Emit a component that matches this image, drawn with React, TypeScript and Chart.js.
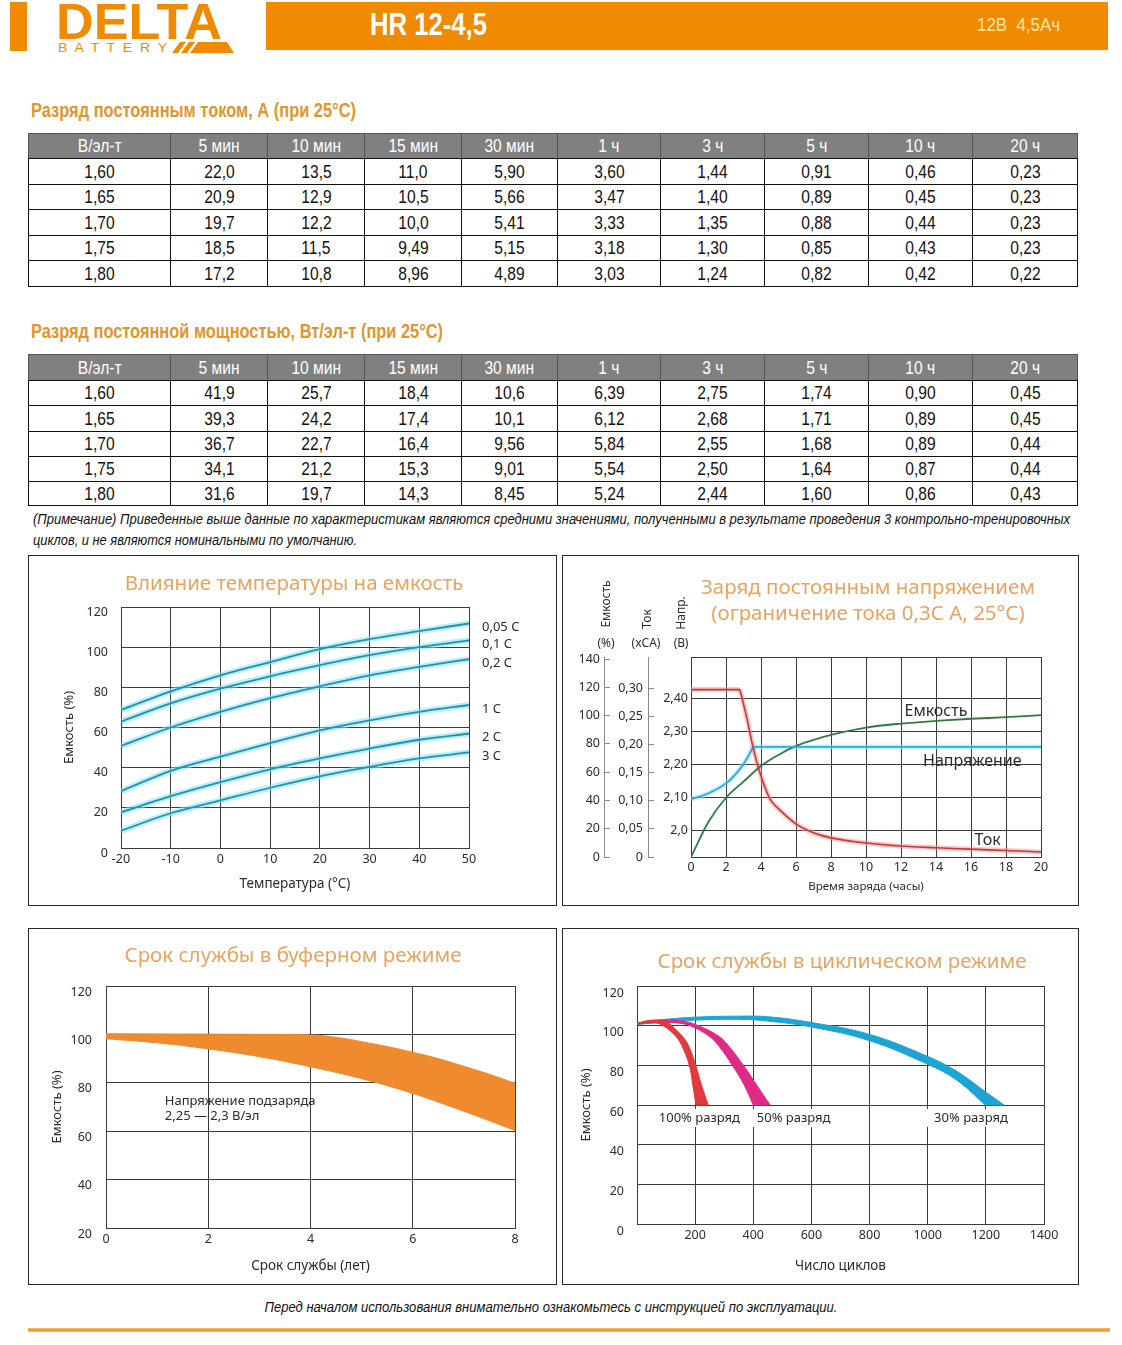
import React, { useEffect, useRef } from 'react';
import { Chart, registerables } from 'chart.js';

Chart.register(...registerables);

const NARROW = '"Liberation Sans Narrow", "Arial Narrow", "Liberation Sans", Arial, sans-serif';
const CF = '"Noto Sans", "Open Sans", sans-serif';
const BRAND = '#F08A00';
const HEAD_COLOR = '#E0952E';
const TITLE_COLOR = '#E9A35E';
const INK = '#2b2b2b';
const GRID = '#3c3c3c';
const NARROW_SCALE = 0.82;

// ===== Tables =====
const tableHeaders = ['В/эл-т', '5 мин', '10 мин', '15 мин', '30 мин', '1 ч', '3 ч', '5 ч', '10 ч', '20 ч'];
const endVoltages = ['1,60', '1,65', '1,70', '1,75', '1,80'];
const currentRows = [
  ['22,0', '13,5', '11,0', '5,90', '3,60', '1,44', '0,91', '0,46', '0,23'],
  ['20,9', '12,9', '10,5', '5,66', '3,47', '1,40', '0,89', '0,45', '0,23'],
  ['19,7', '12,2', '10,0', '5,41', '3,33', '1,35', '0,88', '0,44', '0,23'],
  ['18,5', '11,5', '9,49', '5,15', '3,18', '1,30', '0,85', '0,43', '0,23'],
  ['17,2', '10,8', '8,96', '4,89', '3,03', '1,24', '0,82', '0,42', '0,22'],
];
const powerRows = [
  ['41,9', '25,7', '18,4', '10,6', '6,39', '2,75', '1,74', '0,90', '0,45'],
  ['39,3', '24,2', '17,4', '10,1', '6,12', '2,68', '1,71', '0,89', '0,45'],
  ['36,7', '22,7', '16,4', '9,56', '5,84', '2,55', '1,68', '0,89', '0,44'],
  ['34,1', '21,2', '15,3', '9,01', '5,54', '2,50', '1,64', '0,87', '0,44'],
  ['31,6', '19,7', '14,3', '8,45', '5,24', '2,44', '1,60', '0,86', '0,43'],
];

// ===== Chart 1: temperature vs capacity =====
const tempC = [-20, -10, 0, 10, 20, 30, 40, 50];
const cap005C = [68.7, 78, 86, 92.6, 99, 104, 108, 111.8];
const cap01C = [63, 72, 79.3, 85.5, 91, 96, 100, 103.4];
const cap02C = [50.8, 60, 67.8, 74.6, 80.5, 86, 90.2, 94];
const cap1C = [28.3, 38.4, 45.5, 52.2, 58.6, 63.6, 67.8, 71.2];
const cap2C = [17.8, 25.8, 32.8, 39.2, 44.6, 49.5, 53.9, 56.9];
const cap3C = [8.6, 17.3, 23.7, 30, 35.7, 40.4, 44.6, 47.6];
const tempRates = ['0,05 C', '0,1 C', '0,2 C', '1 C', '2 C', '3 C'];
const tempSeries = [cap005C, cap01C, cap02C, cap1C, cap2C, cap3C];
const tempYTicks = [0, 20, 40, 60, 80, 100, 120];

// ===== Chart 2: constant-voltage charge =====
const chargeXTicks = [0, 2, 4, 6, 8, 10, 12, 14, 16, 18, 20];
const curLimitHours = [0, 2.8];
const curLimit = [0.298, 0.298];
const curDecayHours = [2.8, 3.2, 3.55, 3.9, 4.5, 5, 6, 7, 8, 10, 12, 14, 16, 18, 20];
const curDecay = [0.298, 0.246, 0.195, 0.154, 0.104, 0.086, 0.059, 0.043, 0.034, 0.025, 0.0195, 0.0165, 0.014, 0.0115, 0.009];
const voltRiseHours = [0, 1, 2, 2.5, 3, 3.3, 3.55];
const voltRise = [2.095, 2.113, 2.143, 2.168, 2.201, 2.228, 2.253];
const voltHoldHours = [3.55, 20];
const voltHold = [2.253, 2.253];
const capChargeHours = [0, 1, 2, 3, 4, 5, 6, 7, 8, 10, 12, 14, 16, 18, 20];
const capCharge = [0, 24.9, 41.9, 53.3, 64.4, 72.2, 78.6, 82.8, 86.4, 91.6, 94.4, 96.3, 97.8, 98.9, 100.4];
const voltTicks = [2.0, 2.1, 2.2, 2.3, 2.4];
const voltTickLabels = ['2,0', '2,10', '2,20', '2,30', '2,40'];
const curTicks = [0, 0.05, 0.1, 0.15, 0.2, 0.25, 0.3];
const curTickLabels = ['0', '0,05', '0,10', '0,15', '0,20', '0,25', '0,30'];
const capTicks = [0, 20, 40, 60, 80, 100, 120, 140];
const VOLT_MIN = 1.9205;
const VOLT_MAX = 2.5248;
const CAP_MAX = 141.5;
const CUR_MAX = 0.356;

// ===== Chart 3: float service life =====
const bufferTopYears = [0, 1, 2, 3, 4, 4.5, 5, 5.5, 6, 6.5, 7, 7.5, 8];
const bufferTop = [100.3, 100.2, 100.1, 100, 99.8, 98.8, 97, 95, 92.6, 90, 86.8, 83.5, 79.8];
const bufferBottomYears = [0, 1, 2, 3, 4, 5, 6, 7, 8];
const bufferBottom = [98.2, 96.5, 94, 90.8, 86.6, 81.7, 75.6, 68.2, 60.3];
const bufferXTicks = [0, 2, 4, 6, 8];
const bufferYTicks = [20, 40, 60, 80, 100, 120];

// ===== Chart 4: cyclic service life =====
const red100OuterX = [0, 40, 80, 105, 119, 154, 177, 202, 222, 245];
const red100OuterY = [101.2, 102.6, 102.7, 101.8, 100, 95, 90, 80, 70, 60];
const red100InnerX = [203, 192, 180, 154, 131, 90, 60, 30, 0];
const red100InnerY = [60, 70, 80, 90, 95, 100, 101.6, 101.6, 100.8];
const mag50OuterX = [0, 50, 108, 160, 211, 278, 314, 366, 412, 458];
const mag50OuterY = [101.2, 102.5, 103, 102.3, 100, 95, 90, 80, 70, 60];
const mag50InnerX = [400, 369, 328, 280, 245, 182, 130, 80, 30, 0];
const mag50InnerY = [60, 70, 80, 90, 95, 100, 101.5, 101.6, 101.2, 100.8];
const cyan30OuterX = [0, 100, 200, 349, 450, 600, 800, 1000, 1100, 1200, 1263];
const cyan30OuterY = [101.2, 103.2, 104.3, 104.8, 104.5, 101.6, 95.6, 84.5, 77, 66.5, 60];
const cyan30InnerX = [1198, 1100, 1000, 800, 600, 450, 349, 200, 100, 0];
const cyan30InnerY = [60, 72.5, 80.5, 92.4, 99.3, 102.3, 103.2, 102.8, 101.8, 100.6];
const cycleXTicks = [0, 200, 400, 600, 800, 1000, 1200, 1400];
const cycleXTickLabels = ['', '200', '400', '600', '800', '1000', '1200', '1400'];
const cycleYTicks = [0, 20, 40, 60, 80, 100, 120];
const cycleLabels = ['100% разряд', '50% разряд', '30% разряд'];
const cycleLabelX = [75, 412, 1022];
const cycleLabelY = [53.5, 53.5, 53.5];

// ===== helpers =====
const colX = [28, 170, 267, 364, 461, 557, 660, 764, 868, 972, 1077];

const pts = (xs: number[], ys: number[]) => xs.map((x, i) => ({ x, y: ys[i] }));

// closed polygon from two edges, corners kept sharp by repeating the turning points
const polygon = (ax: number[], ay: number[], bx: number[], by: number[]) => {
  const a = pts(ax, ay);
  const b = pts(bx, by);
  return [...a, a[a.length - 1], b[0], ...b, b[b.length - 1], a[0]];
};

const fixW = (w: number) => (s: any) => { s.width = w; };
const fixH = (h: number) => (s: any) => { s.height = h; };
const setTicks = (vals: number[]) => (s: any) => { s.ticks = vals.map((v) => ({ value: v })); };

const tickFont = { family: CF, size: 12.5 };
const axisTitleFont = { family: CF, size: 13.5 };
const yTitleFont = { family: CF, size: 13 };

let measureCtx: CanvasRenderingContext2D | null = null;
function measure(text: string, font: string) {
  if (!measureCtx) measureCtx = document.createElement('canvas').getContext('2d');
  if (!measureCtx) return 1;
  measureCtx.font = font;
  return measureCtx.measureText(text).width || 1;
}

type TextItem = { text: string; x: number; y: number; yAxis?: string; font: string; color: string; bg?: boolean };

function textPlugin(id: string, items: TextItem[]) {
  return {
    id,
    afterDatasetsDraw(chart: any) {
      const { ctx, scales } = chart;
      ctx.save();
      for (const it of items) {
        const px = scales.x.getPixelForValue(it.x);
        const py = scales[it.yAxis || 'y'].getPixelForValue(it.y);
        ctx.font = it.font;
        ctx.textBaseline = 'middle';
        ctx.textAlign = 'left';
        if (it.bg) {
          const w = ctx.measureText(it.text).width;
          ctx.fillStyle = '#fff';
          ctx.fillRect(px - 8, py - 9, w + 14, 18);
        }
        ctx.fillStyle = it.color;
        ctx.fillText(it.text, px, py);
      }
      ctx.restore();
    },
  };
}

const framePlugin = {
  id: 'frame',
  beforeDatasetsDraw(chart: any) {
    const { ctx, chartArea } = chart;
    ctx.save();
    ctx.strokeStyle = GRID;
    ctx.lineWidth = 1;
    ctx.strokeRect(Math.round(chartArea.left) + 0.5, Math.round(chartArea.top) + 0.5, Math.round(chartArea.right - chartArea.left), Math.round(chartArea.bottom - chartArea.top));
    ctx.restore();
  },
};

const baseOptions = {
  responsive: false,
  animation: false,
  events: [],
  plugins: { legend: { display: false }, tooltip: { enabled: false }, title: { display: false } },
};

// ===== chart builders =====
function buildTempChart() {
  const datasets: any[] = [];
  tempSeries.forEach((vals, i) => {
    const data = pts(tempC, vals);
    datasets.push({ label: tempRates[i], data, borderColor: '#2790A9', borderWidth: 1.8, pointRadius: 0, cubicInterpolationMode: 'monotone', fill: false, order: 0 });
    datasets.push({ label: tempRates[i] + ' halo', data, borderColor: 'rgba(120,226,246,0.55)', borderWidth: 6, pointRadius: 0, cubicInterpolationMode: 'monotone', fill: false, order: 1 });
  });
  const labels = {
    id: 'rateLabels',
    afterDatasetsDraw(chart: any) {
      const { ctx, chartArea, scales } = chart;
      ctx.save();
      ctx.font = `13px ${CF}`;
      ctx.fillStyle = INK;
      ctx.textBaseline = 'middle';
      tempSeries.forEach((vals, i) => {
        ctx.fillText(tempRates[i], chartArea.right + 13, scales.y.getPixelForValue(vals[vals.length - 1]) + 4);
      });
      ctx.restore();
    },
  };
  return {
    type: 'line',
    data: { datasets },
    options: {
      ...baseOptions,
      layout: { padding: { left: 0, right: 87, top: 51, bottom: 0 } },
      scales: {
        x: {
          type: 'linear', min: -20, max: 50,
          afterBuildTicks: setTicks(tempC),
          ticks: { font: tickFont, color: INK, padding: 4, callback: (v: number) => String(v) },
          grid: { color: GRID, drawTicks: false },
          border: { color: GRID },
          title: { display: true, text: 'Температура (°C)', font: axisTitleFont, color: INK, padding: { top: 0, bottom: 13 } },
          afterFit: fixH(57),
        },
        y: {
          type: 'linear', min: 0, max: 120,
          afterBuildTicks: setTicks(tempYTicks),
          ticks: { font: tickFont, color: INK, padding: 13, labelOffset: 5, callback: (v: number) => String(v) },
          grid: { color: GRID, drawTicks: false },
          border: { color: GRID },
          title: { display: true, text: 'Емкость (%)', font: yTitleFont, color: INK, padding: { top: 32, bottom: 0 } },
          afterFit: fixW(92),
        },
      },
    },
    plugins: [labels],
  };
}

function buildChargeChart() {
  const line = { pointRadius: 0, fill: false, cubicInterpolationMode: 'monotone' };
  const datasets: any[] = [
    { ...line, data: pts(curLimitHours, curLimit), yAxisID: 'yCur', borderColor: '#C43A3A', borderWidth: 1.6, order: 0 },
    { ...line, data: pts(curDecayHours, curDecay), yAxisID: 'yCur', borderColor: '#C43A3A', borderWidth: 1.6, order: 0 },
    { ...line, data: pts(curLimitHours, curLimit), yAxisID: 'yCur', borderColor: 'rgba(246,150,150,0.5)', borderWidth: 5, order: 1 },
    { ...line, data: pts(curDecayHours, curDecay), yAxisID: 'yCur', borderColor: 'rgba(246,150,150,0.5)', borderWidth: 5, order: 1 },
    { ...line, data: pts(voltRiseHours, voltRise), yAxisID: 'y', borderColor: '#33A9CF', borderWidth: 1.8, order: 0 },
    { ...line, data: pts(voltHoldHours, voltHold), yAxisID: 'y', borderColor: '#33A9CF', borderWidth: 1.8, order: 0 },
    { ...line, data: pts(voltRiseHours, voltRise), yAxisID: 'y', borderColor: 'rgba(140,222,246,0.5)', borderWidth: 5, order: 1 },
    { ...line, data: pts(voltHoldHours, voltHold), yAxisID: 'y', borderColor: 'rgba(140,222,246,0.5)', borderWidth: 5, order: 1 },
    { ...line, data: pts(capChargeHours, capCharge), yAxisID: 'yCap', borderColor: '#2F7B41', borderWidth: 1.8, order: 0 },
  ];
  const font = `16px ${CF}`;
  const labels = textPlugin('chargeLabels', [
    { text: 'Емкость', x: 12.2, y: 102.9, yAxis: 'yCap', font, color: INK },
    { text: 'Напряжение', x: 13.26, y: 2.208, yAxis: 'y', font, color: INK },
    { text: 'Ток', x: 16.2, y: 0.03, yAxis: 'yCur', font, color: INK },
  ]);
  const sideAxis = (weight: number, width: number, max: number, ticks: number[], lbls: string[], pad: number) => ({
    type: 'linear', position: 'left', weight, min: 0, max,
    afterBuildTicks: setTicks(ticks),
    ticks: { font: tickFont, color: INK, padding: pad + 6, callback: (_v: number, i: number) => lbls[i] },
    grid: { drawOnChartArea: false, drawTicks: true, tickLength: -6, color: '#8a8a8a' },
    border: { display: true, color: '#8a8a8a' },
    afterFit: fixW(width),
  });
  return {
    type: 'line',
    data: { datasets },
    options: {
      ...baseOptions,
      layout: { padding: { left: 0, right: 36, top: 101, bottom: 0 } },
      scales: {
        x: {
          type: 'linear', min: 0, max: 20,
          afterBuildTicks: setTicks(chargeXTicks),
          ticks: { font: tickFont, color: INK, padding: 3, callback: (v: number) => String(v) },
          grid: { color: GRID, drawTicks: false },
          border: { color: GRID },
          title: { display: true, text: 'Время заряда (часы)', font: { family: CF, size: 11.5 }, color: INK, padding: { top: 0, bottom: 10 } },
          afterFit: fixH(47),
        },
        y: {
          type: 'linear', position: 'left', weight: 0, min: VOLT_MIN, max: VOLT_MAX,
          afterBuildTicks: setTicks(voltTicks),
          ticks: { font: tickFont, color: INK, padding: 3, callback: (_v: number, i: number) => voltTickLabels[i] },
          grid: { color: GRID, drawTicks: false },
          border: { display: false },
          afterFit: fixW(43),
        },
        yCur: sideAxis(1, 44, CUR_MAX, curTicks, curTickLabels, 5),
        yCap: sideAxis(2, 41, CAP_MAX, capTicks, capTicks.map(String), 4),
      },
    },
    plugins: [framePlugin, labels],
  };
}

function buildBufferChart() {
  const datasets = [
    {
      data: polygon(bufferTopYears, bufferTop, [...bufferBottomYears].reverse(), [...bufferBottom].reverse()),
      borderColor: '#F08A2E', backgroundColor: '#F08A2E', borderWidth: 1, pointRadius: 0, tension: 0.4, fill: 'shape',
    },
  ];
  const font = `13px ${CF}`;
  const labels = textPlugin('bufferLabels', [
    { text: 'Напряжение подзаряда', x: 1.15, y: 72.5, font, color: INK },
    { text: '2,25 — 2,3 В/эл', x: 1.15, y: 66.3, font, color: INK },
  ]);
  return {
    type: 'line',
    data: { datasets },
    options: {
      ...baseOptions,
      layout: { padding: { left: 0, right: 41, top: 57, bottom: 0 } },
      scales: {
        x: {
          type: 'linear', min: 0, max: 8,
          afterBuildTicks: setTicks(bufferXTicks),
          ticks: { font: tickFont, color: INK, padding: 4, callback: (v: number) => String(v) },
          grid: { color: GRID, drawTicks: false },
          border: { color: GRID },
          title: { display: true, text: 'Срок службы (лет)', font: axisTitleFont, color: INK, padding: { top: 0, bottom: 10 } },
          afterFit: fixH(56),
        },
        y: {
          type: 'linear', min: 20, max: 120,
          afterBuildTicks: setTicks(bufferYTicks),
          ticks: { font: tickFont, color: INK, padding: 14, labelOffset: 6, callback: (v: number) => String(v) },
          grid: { color: GRID, drawTicks: false },
          border: { color: GRID },
          title: { display: true, text: 'Емкость (%)', font: yTitleFont, color: INK, padding: { top: 20, bottom: 0 } },
          afterFit: fixW(77),
        },
      },
    },
    plugins: [labels],
  };
}

function buildCycleChart() {
  const band = (data: any[], color: string) => ({ data, borderColor: color, backgroundColor: color, borderWidth: 1, pointRadius: 0, tension: 0.4, fill: 'shape' });
  const datasets = [
    band(polygon(red100OuterX, red100OuterY, red100InnerX, red100InnerY), '#E2393A'),
    band(polygon(mag50OuterX, mag50OuterY, mag50InnerX, mag50InnerY), '#DE2C86'),
    band(polygon(cyan30OuterX, cyan30OuterY, cyan30InnerX, cyan30InnerY), '#1CA5D2'),
  ];
  const font = `13px ${CF}`;
  const labels = textPlugin('cycleLabels', cycleLabels.map((t, i) => ({ text: t, x: cycleLabelX[i], y: cycleLabelY[i], font, color: INK, bg: true })));
  return {
    type: 'line',
    data: { datasets },
    options: {
      ...baseOptions,
      layout: { padding: { left: 0, right: 33, top: 57, bottom: 0 } },
      scales: {
        x: {
          type: 'linear', min: 0, max: 1400,
          afterBuildTicks: setTicks(cycleXTicks),
          ticks: { font: tickFont, color: INK, padding: 4, callback: (_v: number, i: number) => cycleXTickLabels[i] },
          grid: { color: GRID, drawTicks: false },
          border: { color: GRID },
          title: { display: true, text: 'Число циклов', font: axisTitleFont, color: INK, padding: { top: 0, bottom: 10 } },
          afterFit: fixH(60),
        },
        y: {
          type: 'linear', min: 0, max: 120,
          afterBuildTicks: setTicks(cycleYTicks),
          ticks: { font: tickFont, color: INK, padding: 13, labelOffset: 7, callback: (v: number) => String(v) },
          grid: { color: GRID, drawTicks: false },
          border: { color: GRID },
          title: { display: true, text: 'Емкость (%)', font: yTitleFont, color: INK, padding: { top: 15, bottom: 0 } },
          afterFit: fixW(74),
        },
      },
    },
    plugins: [labels],
  };
}

// ===== components =====
function ChartView({ left, top, width, height, build }: { left: number; top: number; width: number; height: number; build: () => any }) {
  const ref = useRef<HTMLCanvasElement | null>(null);
  useEffect(() => {
    if (!ref.current) return;
    const chart = new Chart(ref.current, build());
    return () => chart.destroy();
  }, []);
  return <canvas ref={ref} width={width} height={height} style={{ position: 'absolute', left, top, width, height }} />;
}

type TxtProps = { x: number; y: number; size: number; children: string; color?: string; family?: string; weight?: number; italic?: boolean; align?: 'left' | 'center' | 'right'; w?: number; fit?: number; sx?: number };

function Txt(props: TxtProps) {
  const { x, y, size, children, color = '#000', family = NARROW, weight = 400, italic = false, align = 'left', w = 1100, fit, sx } = props;
  const lh = Math.round(size * 1.3);
  const left = align === 'center' ? x - w / 2 : align === 'right' ? x - w : x;
  let scale = sx || 1;
  if (fit) scale = fit / measure(children, `${italic ? 'italic ' : ''}${weight} ${size}px ${family}`);
  return (
    <div style={{ position: 'absolute', left, top: y - lh / 2, width: w, height: lh, lineHeight: lh + 'px', fontSize: size, color, fontFamily: family, fontWeight: weight, fontStyle: italic ? 'italic' : 'normal', textAlign: align, whiteSpace: 'pre', transform: `scaleX(${scale})`, transformOrigin: align === 'center' ? '50% 50%' : align === 'right' ? '100% 50%' : '0 50%' }}>
      {children}
    </div>
  );
}

function VTxt({ cx, cy, size, children }: { cx: number; cy: number; size: number; children: any }) {
  const w = 80;
  const lh = Math.round(size * 1.3);
  return (
    <div style={{ position: 'absolute', left: cx - w / 2, top: cy - lh / 2, width: w, height: lh, lineHeight: lh + 'px', fontSize: size, fontFamily: CF, color: INK, textAlign: 'center', transform: 'rotate(-90deg)', whiteSpace: 'nowrap' }}>
      {children}
    </div>
  );
}

function DataTable({ rowY, rows }: { rowY: number[]; rows: string[][] }) {
  const cells: any[] = [];
  const cellStyle = (c: number, r: number, header: boolean): React.CSSProperties => ({
    position: 'absolute',
    left: colX[c],
    top: rowY[r],
    width: colX[c + 1] - colX[c] + 1,
    height: rowY[r + 1] - rowY[r] + 1,
    boxSizing: 'border-box',
    border: header ? '1px solid #555' : '1px solid #111',
    background: header ? '#808080' : '#fff',
    color: header ? '#fff' : '#111',
    fontFamily: NARROW,
    fontSize: 19,
    display: 'flex',
    alignItems: 'center',
    justifyContent: 'center',
  });
  const inner = (t: string) => <span style={{ display: 'inline-block', transform: `scaleX(${NARROW_SCALE})`, whiteSpace: 'nowrap' }}>{t}</span>;
  tableHeaders.forEach((h, c) => cells.push(<div key={'h' + c} style={cellStyle(c, 0, true)}>{inner(h)}</div>));
  rows.forEach((row, r) => {
    cells.push(<div key={'v' + r} style={cellStyle(0, r + 1, false)}>{inner(endVoltages[r])}</div>);
    row.forEach((v, c) => cells.push(<div key={r + '-' + c} style={cellStyle(c + 1, r + 1, false)}>{inner(v)}</div>));
  });
  return <>{cells}</>;
}

function Panel({ left, top, width, height }: { left: number; top: number; width: number; height: number }) {
  return <div style={{ position: 'absolute', left, top, width, height, border: '1px solid #2a2a2a', boxSizing: 'border-box' }} />;
}

function Header() {
  return (
    <>
      <div style={{ position: 'absolute', left: 10, top: 2, width: 17, height: 49, background: BRAND }} />
      <Txt x={56} y={22} size={50} weight={700} family={'"Liberation Sans", Arial, sans-serif'} color={BRAND} fit={166}>DELTA</Txt>
      <Txt x={58} y={47} size={13} family={'"Liberation Sans", Arial, sans-serif'} color={BRAND} fit={112}>{'B  A  T  T  E  R  Y'}</Txt>
      <svg style={{ position: 'absolute', left: 0, top: 0 }} width={240} height={56}>
        <polygon points="172,53 178,53 186,42 180,42" fill={BRAND} />
        <polygon points="181,53 187,53 195,42 189,42" fill={BRAND} />
        <polygon points="190,53 234,53 227,42 198,42" fill={BRAND} />
      </svg>
      <div style={{ position: 'absolute', left: 266, top: 2, width: 842, height: 48, background: BRAND }} />
      <Txt x={370} y={25} size={31} weight={700} color="#fff" fit={117}>HR 12-4,5</Txt>
      <Txt x={977} y={25} size={18} color="#FFE7A8" fit={83}>{'12В  4,5Ач'}</Txt>
    </>
  );
}

function ChartTitle({ cx, cy, children }: { cx: number; cy: number; children: string }) {
  return <Txt x={cx} y={cy} size={20.5} family={CF} color={TITLE_COLOR} align="center" w={520}>{children}</Txt>;
}

const noteLine1 = '(Примечание) Приведенные выше данные по характеристикам являются средними значениями, полученными в результате проведения 3 контрольно-тренировочных';
const noteLine2 = 'циклов, и не являются номинальными по умолчанию.';
const footerNote = 'Перед началом использования внимательно ознакомьтесь с инструкцией по эксплуатации.';

export default function App() {
  return (
    <div style={{ position: 'absolute', left: 0, top: 0, width: 1122, height: 1345, background: '#fff', overflow: 'hidden' }}>
      <Header />

      <Txt x={31} y={110} size={20} weight={700} color={HEAD_COLOR} fit={325}>Разряд постоянным током, А (при 25°C)</Txt>
      <DataTable rowY={[133, 158, 184, 209, 235, 260, 286]} rows={currentRows} />

      <Txt x={31} y={331} size={20} weight={700} color={HEAD_COLOR} fit={412}>Разряд постоянной мощностью, Вт/эл-т (при 25°C)</Txt>
      <DataTable rowY={[354, 380, 405, 431, 456, 481, 505]} rows={powerRows} />

      <Txt x={33} y={519} size={15} italic color="#111" fit={1037}>{noteLine1}</Txt>
      <Txt x={33} y={540} size={15} italic color="#111" fit={324}>{noteLine2}</Txt>

      <Panel left={28} top={555} width={529} height={351} />
      <Panel left={562} top={555} width={517} height={351} />
      <Panel left={28} top={928} width={529} height={357} />
      <Panel left={562} top={928} width={517} height={357} />

      <ChartView left={29} top={556} width={527} height={349} build={buildTempChart} />
      <ChartView left={563} top={556} width={514} height={348} build={buildChargeChart} />
      <ChartView left={29} top={929} width={527} height={355} build={buildBufferChart} />
      <ChartView left={563} top={929} width={514} height={355} build={buildCycleChart} />

      <ChartTitle cx={294} cy={582}>Влияние температуры на емкость</ChartTitle>
      <ChartTitle cx={868} cy={586}>Заряд постоянным напряжением</ChartTitle>
      <ChartTitle cx={868} cy={612}>(ограничение тока 0,3С А, 25°С)</ChartTitle>
      <ChartTitle cx={293} cy={954}>Срок службы в буферном режиме</ChartTitle>
      <ChartTitle cx={842} cy={960}>Срок службы в циклическом режиме</ChartTitle>

      <VTxt cx={606} cy={604} size={12}>Емкость</VTxt>
      <Txt x={606} y={643} size={12} family={CF} color={INK} align="center" w={60}>(%)</Txt>
      <VTxt cx={647} cy={619} size={12}>Ток</VTxt>
      <Txt x={646} y={643} size={12} family={CF} color={INK} align="center" w={60}>(xCA)</Txt>
      <VTxt cx={681} cy={613} size={12}>Напр.</VTxt>
      <Txt x={681} y={643} size={12} family={CF} color={INK} align="center" w={60}>(В)</Txt>

      <Txt x={551} y={1307} size={15} italic color="#111" align="center" w={900} fit={573}>{footerNote}</Txt>
      <div style={{ position: 'absolute', left: 28, top: 1328, width: 1082, height: 4, background: 'linear-gradient(#F7C27A, #EE8F1E, #F7C27A)' }} />
    </div>
  );
}
